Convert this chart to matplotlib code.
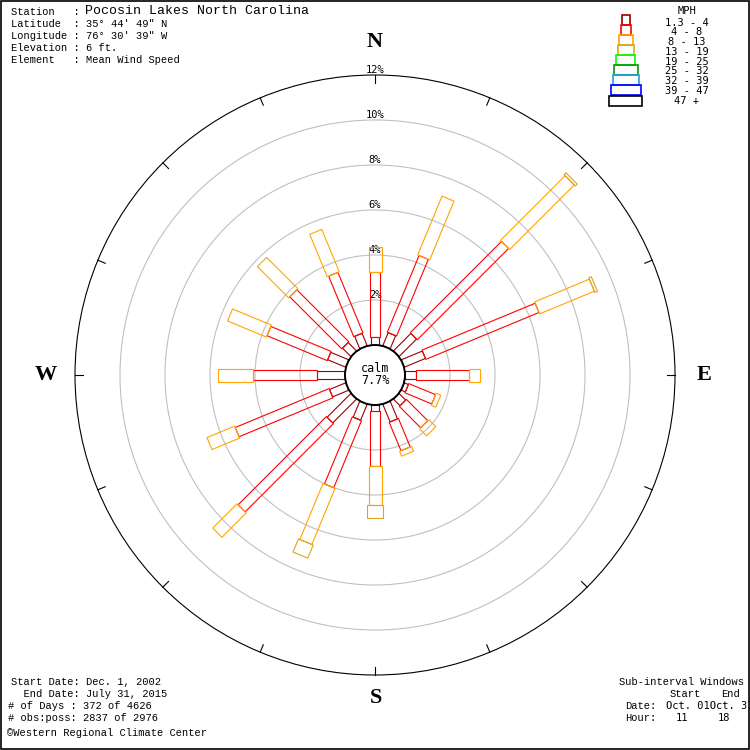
import numpy as np
import matplotlib
matplotlib.use("Agg")
import matplotlib.pyplot as plt
from matplotlib.patches import Polygon, Circle, Rectangle

# ---- data: percent frequency by direction and speed class ----
directions = ["N", "NNE", "NE", "ENE", "E", "ESE", "SE", "SSE",
              "S", "SSW", "SW", "WSW", "W", "WNW", "NW", "NNW"]
speed_classes = ["1.3 - 4", "4 - 8", "8 - 13", "13 - 19", "19 - 25",
                 "25 - 32", "32 - 39", "39 - 47", "47 +"]
class_colors = ["#990000", "#ff0000", "#ffa500", "#daa520", "#00ff00",
                "#009900", "#1ea0e6", "#0000ff", "#000000"]

pct_1_4 = [0.36, 0.63, 1.10, 1.02, 0.49, 0.20, 0.42, 0.85,
           0.27, 0.77, 1.50, 0.78, 1.24, 0.87, 0.53, 0.60]
pct_4_8 = [2.88, 3.69, 5.74, 5.44, 2.35, 1.29, 1.34, 1.37,
           2.44, 3.23, 5.55, 4.52, 2.85, 2.90, 3.27, 2.91]
pct_8_13 = [1.12, 2.83, 4.06, 2.64, 0.49, 0.22, 0.44, 0.23,
            1.73, 2.70, 1.53, 1.33, 1.55, 1.87, 1.97, 2.04]
pct_13_19 = [0.0, 0.0, 0.12, 0.12, 0.0, 0.0, 0.0, 0.0,
             0.58, 0.63, 0.0, 0.0, 0.0, 0.0, 0.0, 0.0]
calm_pct = 7.7
ring_pcts = [2, 4, 6, 8, 10, 12]

# ---- layout (figure pixel units, y downward) ----
W = H = 750
cx, cy = 375, 375
calm_r = 30
px_per_pct = 22.5
class_widths = [8, 10, 13, 16, 19, 24, 26, 30, 33]
legend_widths = [8, 10, 14, 16, 19, 24, 26, 30, 33]

def radius(p):
    return calm_r + p * px_per_pct

fig = plt.figure(figsize=(7.5, 7.5), dpi=100)
ax = fig.add_axes([0, 0, 1, 1])
ax.set_xlim(0, W)
ax.set_ylim(H, 0)
ax.set_aspect("equal")
ax.axis("off")

mono = "Liberation Mono"
smono = "DejaVu Sans Mono"
lw = 0.8

# grey percentage rings
for p in ring_pcts[:-1]:
    ax.add_patch(Circle((cx, cy), radius(p), fill=False, ec="#c0c0c0", lw=lw, zorder=1))
# outer black ring with ticks every 22.5 degrees
R = radius(ring_pcts[-1])
ax.add_patch(Circle((cx, cy), R, fill=False, ec="black", lw=lw, zorder=1))
for k in range(16):
    th = np.deg2rad(k * 22.5)
    ux, uy = np.sin(th), -np.cos(th)
    ax.plot([cx + ux * R, cx + ux * (R - 8)], [cy + uy * R, cy + uy * (R - 8)],
            color="black", lw=lw, zorder=1)

for p in ring_pcts:
    ax.text(cx, cy - radius(p) - 5, f"{p}%", ha="center", va="center",
            fontsize=7.5, family=smono, zorder=2)

# wind rose bars: rectangles of growing width per speed class
series = [pct_1_4, pct_4_8, pct_8_13, pct_13_19]
for i, d in enumerate(directions):
    th = np.deg2rad(i * 22.5)
    u = np.array([np.sin(th), -np.cos(th)])
    v = np.array([np.cos(th), np.sin(th)])
    c = np.array([cx, cy])
    cum = 0.0
    for j, s in enumerate(series):
        val = s[i]
        if val <= 0:
            continue
        r0, r1 = radius(cum), radius(cum + val)
        hw = class_widths[j] / 2
        pts = [c + u * r0 - v * hw, c + u * r1 - v * hw,
               c + u * r1 + v * hw, c + u * r0 + v * hw]
        ax.add_patch(Polygon(pts, closed=True, fill=False,
                             ec=class_colors[j], lw=lw, zorder=3))
        cum += val

# calm circle
ax.add_patch(Circle((cx, cy), calm_r, fc="white", ec="black", lw=1.4, zorder=4))
ax.text(cx, cy - 7, "calm", ha="center", va="center", fontsize=8.5, family=smono, zorder=5)
ax.text(cx, cy + 6, f"{calm_pct}%", ha="center", va="center", fontsize=8.5, family=smono, zorder=5)

# compass letters
for lab, (x, y) in {"N": (375, 42), "E": (704, 375), "S": (376, 698), "W": (46, 375)}.items():
    ax.text(x, y, lab, ha="center", va="center", fontsize=16, family="Liberation Serif",
            weight="bold")

# legend pyramid
lx = 625.5
for j, (col, wd) in enumerate(zip(class_colors, legend_widths)):
    top = 15 + j * 10 + (1 if j == 8 else 0)
    ax.add_patch(Rectangle((lx - wd / 2, top), wd, 10, fill=False, ec=col, lw=1.2))
ax.text(687, 11, "MPH", ha="center", va="center", fontsize=7.5, family=smono)
for j, lab in enumerate(speed_classes):
    ax.text(687, 22.5 + j * 9.8, lab, ha="center", va="center", fontsize=7.5, family=smono)

# station header
ax.text(11, 12, "Station   : ", ha="left", va="center", fontsize=7.5, family=mono)
ax.text(85, 11, "Pocosin Lakes North Carolina", ha="left", va="center", fontsize=9.5, family=mono)
header = ["Latitude  : 35° 44' 49\" N",
          "Longitude : 76° 30' 39\" W",
          "Elevation : 6 ft.",
          "Element   : Mean Wind Speed"]
for k, line in enumerate(header):
    ax.text(11, 24 + 12 * k, line, ha="left", va="center", fontsize=7.5, family=mono)

# period summary
footer = [(11, "Start Date: Dec. 1, 2002"),
          (11, "  End Date: July 31, 2015"),
          (8, "# of Days : 372 of 4626"),
          (8, "# obs:poss: 2837 of 2976")]
for k, (x, line) in enumerate(footer):
    ax.text(x, 682 + 12 * k, line, ha="left", va="center", fontsize=7.5, family=mono)
ax.text(7, 733, "©Western Regional Climate Center", ha="left", va="center",
        fontsize=7.5, family=mono)

# sub-interval windows
ax.text(619, 682, "Sub-interval Windows", ha="left", va="center", fontsize=7.5, family=mono)
ax.text(670, 694, "Start", ha="left", va="center", fontsize=7.5, family=mono)
ax.text(721, 694, "End", ha="left", va="center", fontsize=7.5, family=mono)
ax.text(625, 706, "Date:", ha="left", va="center", fontsize=7.5, family=mono)
ax.text(666, 706, "Oct. 01Oct. 31", ha="left", va="center", fontsize=7.5, family=smono)
ax.text(625, 718, "Hour:", ha="left", va="center", fontsize=7.5, family=mono)
ax.text(676, 718, "11", ha="left", va="center", fontsize=7.5, family=smono)
ax.text(718, 718, "18", ha="left", va="center", fontsize=7.5, family=smono)

# frame
ax.add_patch(Rectangle((0.5, 0.5), W - 1.5, H - 1.5, fill=False, ec="black", lw=1.2, zorder=6))

fig.savefig("out.png", dpi=100)
